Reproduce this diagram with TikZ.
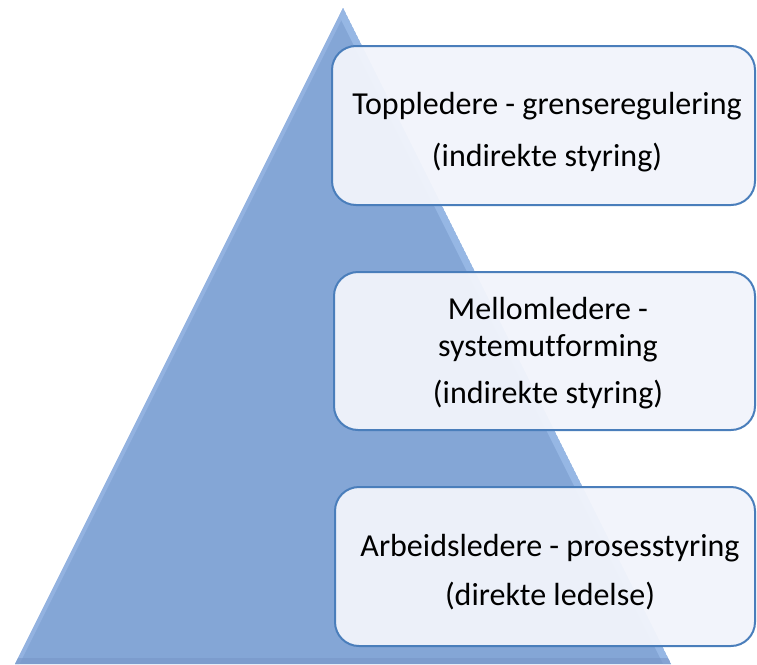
\documentclass[tikz,border=0pt]{standalone}
\usepackage{fontspec}
\setmainfont{Carlito}[Ligatures=NoCommon]
\begin{document}
\begin{tikzpicture}[x=1pt,y=-1pt,
  levelbox/.style={draw=boxline, line width=2pt, rounded corners=24pt, fill=boxfill, fill opacity=0.96, draw opacity=1, inner sep=0pt},
  leveltext/.style={anchor=base, font=\fontsize{32}{38}\selectfont, text=black, inner sep=0pt}]
\definecolor{pyr}{HTML}{84A6D6}
\definecolor{pyrlight}{HTML}{9FBFEB}
\definecolor{pyredge}{HTML}{97B6E3}
\definecolor{pyrdark}{HTML}{7896C8}
\definecolor{boxline}{HTML}{4A7EBB}
\definecolor{boxfill}{HTML}{F1F4FB}
\useasboundingbox (0,0) rectangle (757,664);
% pyramid
\coordinate (apex) at (343,8);
\coordinate (bl) at (15,664);
\coordinate (br) at (671,664);
\begin{scope}
  \clip (apex) -- (bl) -- (br) -- cycle;
  \fill[pyr] (apex) -- (bl) -- (br) -- cycle;
  \draw[pyrlight, line width=14pt, opacity=0.7] (apex) -- (br);
  \draw[pyredge, line width=8pt, opacity=0.8] (apex) -- (bl);
  \draw[pyrdark, line width=12pt, opacity=0.6] (bl) -- (br);
\end{scope}
% boxes
\node[levelbox, minimum width=423pt, minimum height=159pt] (b1) at (543.5,125.5) {};
\node[levelbox, minimum width=421pt, minimum height=158pt] (b2) at (544.5,351) {};
\node[levelbox, minimum width=420pt, minimum height=159pt] (b3) at (545,566.5) {};
% texts
\node[leveltext] (t1a) at (547,114) {Toppledere - grenseregulering};
\node[leveltext] (t1b) at (547,166) {(indirekte styring)};
\node[leveltext] (t2a) at (548,319) {Mellomledere -};
\node[leveltext] (t2b) at (548,356) {systemutforming};
\node[leveltext] (t2c) at (548,403) {(indirekte styring)};
\node[leveltext] (t3a) at (550,556) {Arbeidsledere - prosesstyring};
\node[leveltext] (t3b) at (550,605) {(direkte ledelse)};
\end{tikzpicture}
\end{document}
